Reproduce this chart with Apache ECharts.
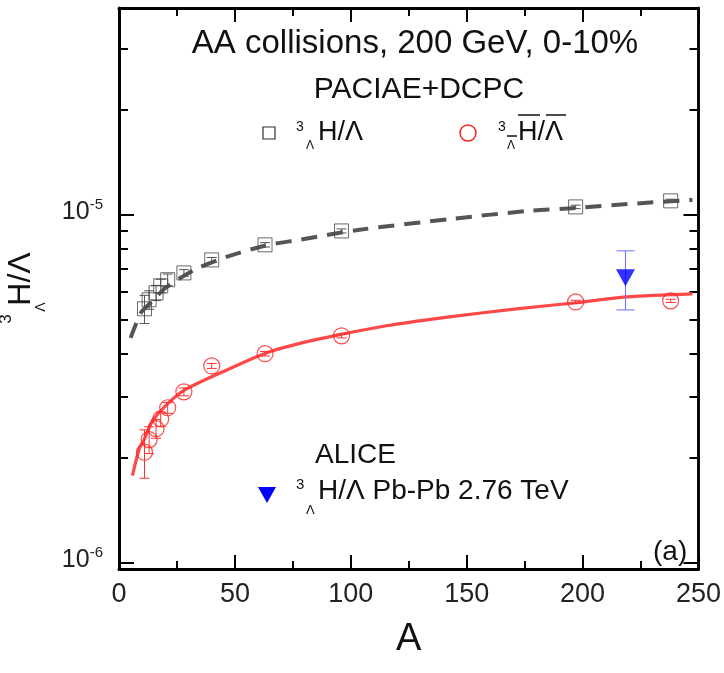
<!DOCTYPE html>
<html>
<head>
<meta charset="utf-8">
<script src="https://cdn.jsdelivr.net/npm/echarts@6/dist/echarts.min.js"></script>
<style>
  html, body { margin: 0; padding: 0; background: #fff; }
  #main { width: 724px; height: 673px; }
</style>
</head>
<body>
<div id="main"></div>
<script>
  // PACIAE+DCPC points, one per collision system
  var massA = [11, 13, 16, 18, 21, 28, 40, 63, 96, 197, 238];
  var hypRatio = [5.37e-6, 5.70e-6, 5.97e-6, 6.25e-6, 6.51e-6, 6.81e-6, 7.42e-6, 8.20e-6, 8.99e-6, 1.054e-5, 1.097e-5];
  var hypErr = [0.5e-6, 0.35e-6, 0.3e-6, 0.28e-6, 0.25e-6, 0.15e-6, 0.12e-6, 0.12e-6, 0.12e-6, 0.12e-6, 0.12e-6];
  var antiRatio = [2.08e-6, 2.26e-6, 2.43e-6, 2.59e-6, 2.79e-6, 3.10e-6, 3.68e-6, 3.99e-6, 4.49e-6, 5.62e-6, 5.66e-6];
  var antiErr = [0.33e-6, 0.2e-6, 0.15e-6, 0.12e-6, 0.1e-6, 0.08e-6, 0.06e-6, 0.06e-6, 0.06e-6, 0.06e-6, 0.06e-6];

  // fit curves
  var hypFitA = [5, 7.5, 9.7, 14.5, 19.6, 26, 33.4, 46.4, 62.8, 77.9, 103.8, 143.9, 177.1, 197.4, 220.2, 247.4];
  var hypFit = [4.43e-6, 4.89e-6, 5.26e-6, 5.66e-6, 6.13e-6, 6.55e-6, 7.0e-6, 7.57e-6, 8.15e-6, 8.48e-6, 9.06e-6, 9.74e-6, 1.027e-5, 1.047e-5, 1.075e-5, 1.104e-5];
  var antiFitA = [5.8, 8.8, 11, 14.5, 21.8, 29.1, 47.7, 65, 86.5, 115.4, 142.6, 171.5, 197.4, 219, 247.4];
  var antiFit = [1.78e-6, 2.13e-6, 2.27e-6, 2.56e-6, 2.90e-6, 3.16e-6, 3.61e-6, 4.04e-6, 4.40e-6, 4.80e-6, 5.09e-6, 5.37e-6, 5.59e-6, 5.81e-6, 5.93e-6];

  // ALICE Pb-Pb 2.76 TeV
  var aliceA = [218.5];
  var aliceRatio = [6.59e-6];
  var aliceLow = [5.33e-6];
  var aliceHigh = [7.88e-6];

  // axis ticks
  var yMajor = [1e-6, 1e-5];
  var yMinor = [2e-6, 3e-6, 4e-6, 5e-6, 6e-6, 7e-6, 8e-6, 9e-6, 2e-5, 3e-5];

  var font = 'Liberation Sans, Arial, sans-serif';

  function pairs(xs, ys) {
    return xs.map(function (x, i) { return [x, ys[i]]; });
  }
  function bars(xs, ys, es) {
    return xs.map(function (x, i) { return [x, ys[i] - es[i], ys[i] + es[i]]; });
  }

  function errorBar(color, cap) {
    return function (params, api) {
      var lo = api.coord([api.value(0), api.value(1)]);
      var hi = api.coord([api.value(0), api.value(2)]);
      var st = { stroke: color, lineWidth: 1 };
      return {
        type: 'group',
        children: [
          { type: 'line', shape: { x1: lo[0], y1: lo[1], x2: hi[0], y2: hi[1] }, style: st },
          { type: 'line', shape: { x1: lo[0] - cap, y1: lo[1], x2: lo[0] + cap, y2: lo[1] }, style: st },
          { type: 'line', shape: { x1: hi[0] - cap, y1: hi[1], x2: hi[0] + cap, y2: hi[1] }, style: st }
        ]
      };
    };
  }

  function yAxis(pos, ticks, len, labels, lineW) {
    return {
      type: 'log',
      position: pos,
      min: 0.96e-6,
      max: 3.93e-5,
      axisLine: { show: labels || pos === 'right', lineStyle: { color: '#000', width: lineW } },
      axisTick: { inside: true, length: len, customValues: ticks, lineStyle: { color: '#000', width: 2 } },
      axisLabel: {
        show: labels,
        customValues: ticks,
        margin: 16,
        padding: [0, 0, 8, 0],
        formatter: function (v) {
          return '{b|10}{s|' + Math.round(Math.log10(v)) + '}';
        },
        rich: {
          b: { fontSize: 25, fontFamily: font, color: '#222', verticalAlign: 'bottom' },
          s: { fontSize: 15, fontFamily: font, color: '#222', verticalAlign: 'bottom', padding: [0, 0, 12, 0] }
        }
      },
      splitLine: { show: false }
    };
  }

  function xAxis(pos, labels) {
    return {
      type: 'value',
      position: pos,
      min: 0,
      max: 250,
      interval: 50,
      name: labels ? 'A' : '',
      nameLocation: 'middle',
      nameGap: 52,
      nameTextStyle: { fontSize: 38, fontFamily: font, color: '#111' },
      axisLine: { lineStyle: { color: '#000', width: 3 } },
      axisTick: { inside: true, length: 14, lineStyle: { color: '#000', width: 2 } },
      minorTick: { show: true, splitNumber: 2, length: 8, lineStyle: { color: '#000', width: 2 } },
      axisLabel: { show: labels, fontSize: 27, fontFamily: font, color: '#222', margin: 12 },
      splitLine: { show: false }
    };
  }

  function txt(x, y, s, size, extra) {
    var style = { text: s, x: x, y: y, fontSize: size, fontFamily: font, fill: '#111', textAlign: 'left', textVerticalAlign: 'middle' };
    for (var k in extra) style[k] = extra[k];
    return { type: 'text', style: style, z: 10 };
  }
  function bar(x1, x2, y) {
    return { type: 'line', shape: { x1: x1, y1: y, x2: x2, y2: y }, style: { stroke: '#111', lineWidth: 1.5 }, z: 10 };
  }

  var chart = echarts.init(document.getElementById('main'));
  chart.setOption({
    animation: false,
    grid: { left: 119, right: 25, top: 8, bottom: 104 },
    xAxis: [xAxis('bottom', true), xAxis('top', false)],
    yAxis: [
      yAxis('left', yMajor, 15, true, 3),
      yAxis('left', yMinor, 9, false, 3),
      yAxis('right', yMajor, 15, false, 2.5),
      yAxis('right', yMinor, 9, false, 2.5)
    ],
    graphic: [
      txt(415, 44, 'AA collisions, 200 GeV, 0-10%', 33, { textAlign: 'center' }),
      txt(419, 90, 'PACIAE+DCPC', 30, { textAlign: 'center' }),
      { type: 'rect', shape: { x: 263, y: 127, width: 12, height: 12 }, style: { fill: 'none', stroke: '#333', lineWidth: 1.2 }, z: 10 },
      txt(296, 127, '3', 14),
      txt(306, 146, 'Λ', 12),
      txt(318, 133, 'H/Λ', 27),
      { type: 'circle', shape: { cx: 468, cy: 133, r: 8 }, style: { fill: 'none', stroke: '#ff2020', lineWidth: 1.5 }, z: 10 },
      txt(498, 127, '3', 14),
      txt(507, 146, 'Λ', 12),
      bar(507, 517, 136),
      txt(518, 133, 'H/Λ', 27),
      bar(518, 540, 115),
      bar(546, 566, 115),
      txt(315, 455, 'ALICE', 28),
      { type: 'polygon', shape: { points: [[258, 487], [276, 487], [267, 503]] }, style: { fill: '#0000ff' }, z: 10 },
      txt(296, 485, '3', 15),
      txt(306, 510, 'Λ', 13),
      txt(318, 491, 'H/Λ Pb-Pb 2.76 TeV', 28),
      txt(653, 552, '(a)', 28),
      {
        type: 'group', x: 21, y: 279, rotation: Math.PI / 2, z: 10,
        children: [
          txt(0, 0, 'H/Λ', 32, { textAlign: 'center' }),
          txt(-40, -15, '3', 17, { textAlign: 'center' }),
          txt(-28, 20, 'Λ', 14, { textAlign: 'center' })
        ]
      }
    ],
    series: [
      {
        type: 'line', data: pairs(hypFitA, hypFit), smooth: 0.3, showSymbol: false, z: 2,
        lineStyle: { color: '#555', width: 4, type: [16, 10] }
      },
      {
        type: 'line', data: pairs(antiFitA, antiFit), smooth: 0.3, showSymbol: false, z: 2,
        lineStyle: { color: '#ff4848', width: 3.2 }
      },
      { type: 'custom', data: bars(massA, hypRatio, hypErr), renderItem: errorBar('#555', 5), z: 3 },
      { type: 'custom', data: bars(massA, antiRatio, antiErr), renderItem: errorBar('#ff3030', 5), z: 3 },
      {
        type: 'scatter', data: pairs(massA, hypRatio), symbol: 'rect', symbolSize: 14, z: 4,
        itemStyle: { color: 'rgba(0,0,0,0)', borderColor: '#444', borderWidth: 1 }
      },
      {
        type: 'scatter', data: pairs(massA, antiRatio), symbol: 'circle', symbolSize: 16, z: 4,
        itemStyle: { color: 'rgba(0,0,0,0)', borderColor: '#ff2020', borderWidth: 1.2 }
      },
      {
        type: 'custom', z: 3, renderItem: errorBar('#6b6bff', 9),
        data: aliceA.map(function (a, i) { return [a, aliceLow[i], aliceHigh[i]]; })
      },
      {
        type: 'scatter', data: pairs(aliceA, aliceRatio), symbol: 'triangle', symbolRotate: 180,
        symbolSize: [19, 17], z: 5, itemStyle: { color: '#0000ff' }
      }
    ]
  });
</script>
</body>
</html>
